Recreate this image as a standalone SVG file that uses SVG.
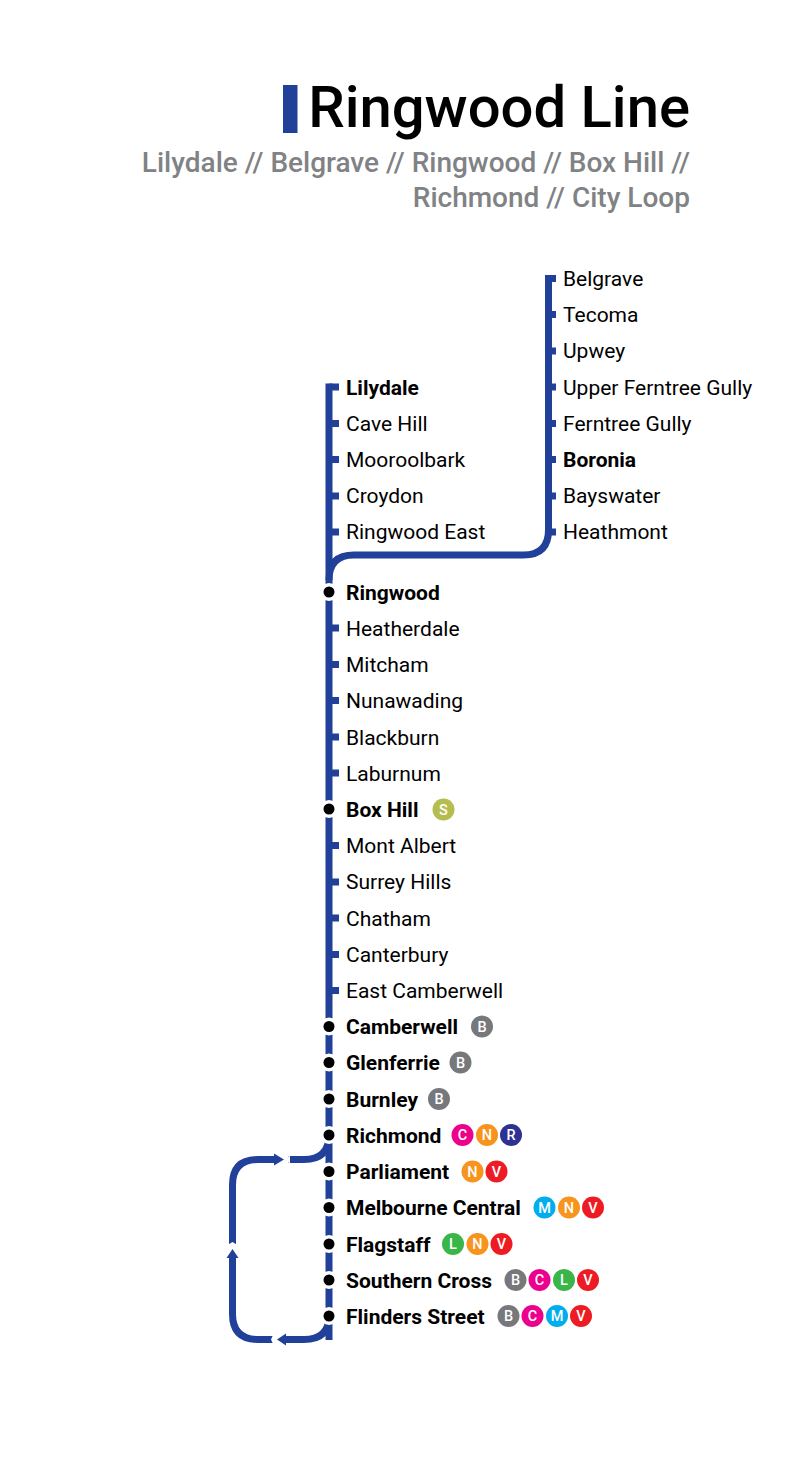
<svg xmlns="http://www.w3.org/2000/svg" width="806" height="1461" viewBox="0 0 806 1461">
<defs>
<style>
text{font-family:Roboto,"Liberation Sans",sans-serif}
.l{fill:none;stroke:#21409a;stroke-width:7}
.t{fill:#21409a}
.h{fill:#fff}
.n{font-size:21px;fill:#000}
.b{font-size:21px;font-weight:700;fill:#000}
.i{font-size:14.5px;font-weight:500;fill:#fff;text-anchor:middle}
.s{font-size:28px;font-weight:500;fill:#808285;text-anchor:end}
.d{fill:#000}
</style>
</defs>
<rect width="806" height="1461" fill="#fff"/>
<g id="header">
<rect x="283" y="85" width="14.500" height="48" fill="#21409a"/>
<text x="690" y="127" font-size="58" font-weight="500" text-anchor="end" fill="#000">Ringwood Line</text>
<text x="690" y="171.500" class="s">Lilydale // Belgrave // Ringwood // Box Hill //</text>
<text x="690" y="206.500" class="s">Richmond // City Loop</text>
</g>
<g id="connectors">
<path class="l" d="M329 383.500V1340"/>
<path class="l" d="M548.500 275V530Q548.500 555 523.500 555H354Q329 555 329 580"/>
<path class="l" d="M329 1135Q329 1159.500 304 1159.500H288"/>
<path class="l" d="M276 1159.500H258Q232.500 1159.500 232.500 1185V1246"/>
<path class="l" d="M232.500 1256V1314Q232.500 1339.500 258 1339.500H273"/>
<path class="l" d="M285 1339.500H304Q329 1339.500 329 1316"/>
<polygon class="t" points="284,1153.500 284,1165.500 274,1159.500" transform="rotate(180 279 1159.500)"/>
<polygon class="t" points="226.500,1258 238.500,1258 232.500,1249"/>
<polygon class="t" points="286,1333.500 286,1345.500 277,1339.500"/>
<polygon class="h" points="290,1153 290,1166 287,1159.500"/>
<polygon class="h" points="226,1246 239,1246 232.500,1242"/>
<polygon class="h" points="274,1333 274,1346 271,1339.500"/>
<g class="t">
<rect x="329" y="383.500" width="10" height="7"/><rect x="329" y="420" width="10" height="7"/><rect x="329" y="456" width="10" height="7"/><rect x="329" y="492.500" width="10" height="7"/><rect x="329" y="528.500" width="10" height="7"/>
<rect x="548" y="275" width="8" height="7"/><rect x="548" y="311" width="8" height="7"/><rect x="548" y="347.500" width="8" height="7"/><rect x="548" y="383.500" width="8" height="7"/><rect x="548" y="420" width="8" height="7"/><rect x="548" y="456" width="8" height="7"/><rect x="548" y="492.500" width="8" height="7"/><rect x="548" y="528.500" width="8" height="7"/>
<rect x="329" y="624.500" width="10" height="7"/><rect x="329" y="661" width="10" height="7"/><rect x="329" y="697" width="10" height="7"/><rect x="329" y="733.500" width="10" height="7"/><rect x="329" y="769.500" width="10" height="7"/>
<rect x="329" y="842" width="10" height="7"/><rect x="329" y="878.500" width="10" height="7"/><rect x="329" y="914.500" width="10" height="7"/><rect x="329" y="951" width="10" height="7"/><rect x="329" y="987" width="10" height="7"/>
</g>
</g>
<g id="stations-lilydale">
<text x="346" y="394.500" class="b">Lilydale</text>
<text x="346" y="430.500" class="n">Cave Hill</text>
<text x="346" y="466.500" class="n">Mooroolbark</text>
<text x="346" y="503" class="n">Croydon</text>
<text x="346" y="539" class="n">Ringwood East</text>
</g>
<g id="stations-belgrave">
<text x="563" y="286" class="n">Belgrave</text>
<text x="563" y="322" class="n">Tecoma</text>
<text x="563" y="358" class="n">Upwey</text>
<text x="563" y="394.500" class="n">Upper Ferntree Gully</text>
<text x="563" y="430.500" class="n">Ferntree Gully</text>
<text x="563" y="466.500" class="b">Boronia</text>
<text x="563" y="503" class="n">Bayswater</text>
<text x="563" y="539" class="n">Heathmont</text>
</g>
<g id="stations-main">
<text x="346" y="635.500" class="n">Heatherdale</text>
<text x="346" y="672" class="n">Mitcham</text>
<text x="346" y="708" class="n">Nunawading</text>
<text x="346" y="744.500" class="n">Blackburn</text>
<text x="346" y="780.500" class="n">Laburnum</text>
<text x="346" y="853" class="n">Mont Albert</text>
<text x="346" y="889" class="n">Surrey Hills</text>
<text x="346" y="925.500" class="n">Chatham</text>
<text x="346" y="961.500" class="n">Canterbury</text>
<text x="346" y="998" class="n">East Camberwell</text>
</g>
<g id="ringwood"><circle cx="329" cy="592" r="9" class="h"/><circle cx="329" cy="592" r="5.500" class="d"/><text x="346" y="599.500" class="b">Ringwood</text></g>
<g id="box-hill"><circle cx="329" cy="809" r="9" class="h"/><circle cx="329" cy="809" r="5.500" class="d"/><text x="346" y="816.500" class="b">Box Hill</text><circle cx="443.500" cy="809.500" r="11" fill="#b5bd4e"/><text x="443.500" y="814.500" class="i">S</text></g>
<g id="camberwell"><circle cx="329" cy="1026.500" r="9" class="h"/><circle cx="329" cy="1026.500" r="5.500" class="d"/><text x="346" y="1034" class="b">Camberwell</text><circle cx="482" cy="1026.500" r="11" fill="#77787b"/><text x="482" y="1031.500" class="i">B</text></g>
<g id="glenferrie"><circle cx="329" cy="1062.500" r="9" class="h"/><circle cx="329" cy="1062.500" r="5.500" class="d"/><text x="346" y="1070" class="b">Glenferrie</text><circle cx="460.500" cy="1062.500" r="11" fill="#77787b"/><text x="460.500" y="1067.500" class="i">B</text></g>
<g id="burnley"><circle cx="329" cy="1099" r="9" class="h"/><circle cx="329" cy="1099" r="5.500" class="d"/><text x="346" y="1106.500" class="b">Burnley</text><circle cx="439" cy="1099" r="11" fill="#77787b"/><text x="439" y="1104" class="i">B</text></g>
<g id="richmond"><circle cx="329" cy="1135" r="9" class="h"/><circle cx="329" cy="1135" r="5.500" class="d"/><text x="346" y="1142.500" class="b">Richmond</text>
<circle cx="462.500" cy="1135" r="11" fill="#ec008c"/><text x="462.500" y="1140" class="i">C</text>
<circle cx="487" cy="1135" r="11" fill="#f7941d"/><text x="487" y="1140" class="i">N</text>
<circle cx="511" cy="1135" r="11" fill="#2e3192"/><text x="511" y="1140" class="i">R</text></g>
<g id="parliament"><circle cx="329" cy="1171.500" r="9" class="h"/><circle cx="329" cy="1171.500" r="5.500" class="d"/><text x="346" y="1179" class="b">Parliament</text>
<circle cx="472.500" cy="1171.500" r="11" fill="#f7941d"/><text x="472.500" y="1176.500" class="i">N</text>
<circle cx="496.500" cy="1171.500" r="11" fill="#ed1c24"/><text x="496.500" y="1176.500" class="i">V</text></g>
<g id="melbourne-central"><circle cx="329" cy="1207.500" r="9" class="h"/><circle cx="329" cy="1207.500" r="5.500" class="d"/><text x="346" y="1215" class="b">Melbourne Central</text>
<circle cx="544.500" cy="1207.500" r="11" fill="#00aeef"/><text x="544.500" y="1212.500" class="i">M</text>
<circle cx="569" cy="1207.500" r="11" fill="#f7941d"/><text x="569" y="1212.500" class="i">N</text>
<circle cx="593" cy="1207.500" r="11" fill="#ed1c24"/><text x="593" y="1212.500" class="i">V</text></g>
<g id="flagstaff"><circle cx="329" cy="1244" r="9" class="h"/><circle cx="329" cy="1244" r="5.500" class="d"/><text x="346" y="1251.500" class="b">Flagstaff</text>
<circle cx="453" cy="1244" r="11" fill="#39b54a"/><text x="453" y="1249" class="i">L</text>
<circle cx="477.500" cy="1244" r="11" fill="#f7941d"/><text x="477.500" y="1249" class="i">N</text>
<circle cx="501.500" cy="1244" r="11" fill="#ed1c24"/><text x="501.500" y="1249" class="i">V</text></g>
<g id="southern-cross"><circle cx="329" cy="1280" r="9" class="h"/><circle cx="329" cy="1280" r="5.500" class="d"/><text x="346" y="1287.500" class="b">Southern Cross</text>
<circle cx="515.500" cy="1280" r="11" fill="#77787b"/><text x="515.500" y="1285" class="i">B</text>
<circle cx="539.500" cy="1280" r="11" fill="#ec008c"/><text x="539.500" y="1285" class="i">C</text>
<circle cx="564" cy="1280" r="11" fill="#39b54a"/><text x="564" y="1285" class="i">L</text>
<circle cx="588" cy="1280" r="11" fill="#ed1c24"/><text x="588" y="1285" class="i">V</text></g>
<g id="flinders-street"><circle cx="329" cy="1316" r="9" class="h"/><circle cx="329" cy="1316" r="5.500" class="d"/><text x="346" y="1323.500" class="b">Flinders Street</text>
<circle cx="508.500" cy="1316" r="11" fill="#77787b"/><text x="508.500" y="1321" class="i">B</text>
<circle cx="532.500" cy="1316" r="11" fill="#ec008c"/><text x="532.500" y="1321" class="i">C</text>
<circle cx="557" cy="1316" r="11" fill="#00aeef"/><text x="557" y="1321" class="i">M</text>
<circle cx="581" cy="1316" r="11" fill="#ed1c24"/><text x="581" y="1321" class="i">V</text></g>
</svg>
